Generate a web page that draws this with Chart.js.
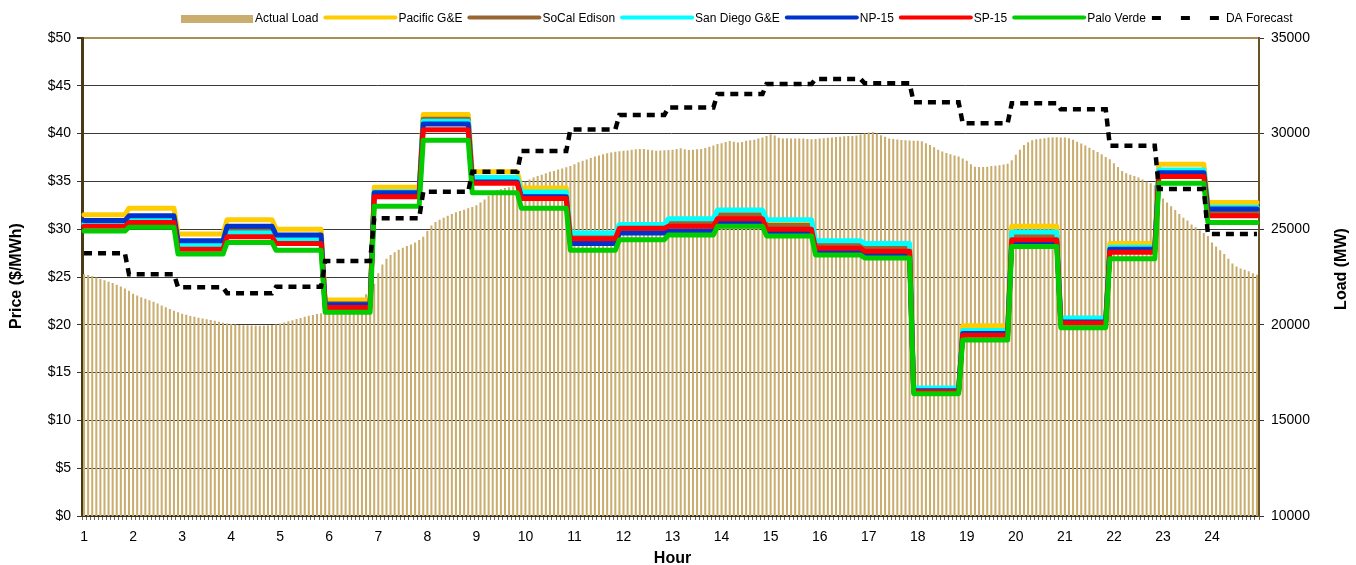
<!DOCTYPE html>
<html>
<head>
<meta charset="utf-8">
<title>Load and Prices</title>
<script src="https://cdn.jsdelivr.net/npm/chart.js@4.4.1/dist/chart.umd.min.js"></script>
<style>
  body { margin: 0; background: #fff; }
  canvas { display: block; }
</style>
</head>
<body>
<canvas id="myChart" width="1356" height="565"></canvas>
<script>
// hour tick labels
const hourLabels = ["1", "2", "3", "4", "5", "6", "7", "8", "9", "10", "11", "12",
  "13", "14", "15", "16", "17", "18", "19", "20", "21", "22", "23", "24"];

// actual load, MW, every 5 minutes (one row per hour)
const actualLoad = [
  22650, 22600, 22550, 22480, 22400, 22330, 22250, 22180, 22100, 22000, 21900, 21780,
  21620, 21530, 21440, 21360, 21290, 21200, 21110, 21010, 20920, 20830, 20740, 20650,
  20580, 20520, 20460, 20420, 20370, 20330, 20290, 20250, 20210, 20160, 20110, 20070,
  20040, 20010, 19990, 19980, 19970, 19960, 19960, 19950, 19960, 19970, 19990, 20020,
  20070, 20120, 20180, 20240, 20300, 20360, 20420, 20470, 20510, 20560, 20610, 20660,
  20700, 20740, 20780, 20840, 20900, 20980, 21100, 21250, 21420, 21600, 21850, 22150,
  22700, 23150, 23450, 23650, 23800, 23920, 24030, 24120, 24200, 24300, 24440, 24600,
  24900, 25200, 25380, 25500, 25600, 25700, 25800, 25880, 25950, 26020, 26090, 26160,
  26250, 26400, 26550, 26750, 26950, 27050, 27100, 27150, 27200, 27250, 27300, 27350,
  27480, 27600, 27700, 27780, 27850, 27920, 28000, 28050, 28120, 28180, 28240, 28300,
  28400, 28500, 28580, 28650, 28730, 28800, 28860, 28920, 28970, 29010, 29050, 29080,
  29100, 29120, 29150, 29180, 29200, 29190, 29160, 29130, 29100, 29110, 29130, 29140,
  29150, 29200, 29230, 29180, 29140, 29150, 29180, 29200, 29250, 29310, 29380, 29450,
  29500, 29560, 29610, 29580, 29540, 29560, 29620, 29650, 29680, 29750, 29800, 29880,
  29960, 29900, 29780, 29750, 29760, 29750, 29740, 29750, 29740, 29720, 29700, 29720,
  29740, 29760, 29780, 29800, 29820, 29840, 29860, 29870, 29880, 29900, 29950, 30010,
  30060, 30080, 30000, 29920, 29840, 29750, 29720, 29690, 29670, 29650, 29640, 29630,
  29630, 29600, 29500, 29400, 29280, 29150, 29060, 28980, 28920, 28860, 28800, 28700,
  28580, 28400, 28270, 28250, 28250, 28270, 28300, 28320, 28350, 28380, 28420, 28600,
  28900, 29150, 29400, 29550, 29650, 29700, 29730, 29760, 29790, 29810, 29810, 29800,
  29800, 29760, 29680, 29580, 29480, 29380, 29260, 29140, 29040, 28920, 28780, 28660,
  28450, 28250, 28050, 27920, 27850, 27780, 27700, 27600, 27500, 27400, 27300, 27150,
  26600, 26400, 26200, 26000, 25800, 25600, 25450, 25250, 25100, 24950, 24800, 24650,
  24300, 24100, 23900, 23700, 23450, 23200, 23050, 22950, 22880, 22800, 22700, 22620
];

// hourly prices, $/MWh
const pacificGE = [31.5, 32.2, 29.5, 31.0, 30.0, 22.6, 34.4, 42.0, 36.0, 34.3, 29.4, 30.3,
  30.9, 31.8, 30.8, 28.6, 28.3, 13.3, 19.9, 30.3, 20.6, 28.5, 36.8, 32.8];
const socalEdison = [30.5, 30.9, 28.5, 29.9, 29.1, 22.2, 33.7, 41.5, 35.0, 33.6, 29.2, 30.1,
  30.7, 31.5, 30.4, 28.4, 28.0, 13.2, 19.2, 29.4, 20.4, 27.9, 36.0, 31.8];
const sanDiegoGE = [30.6, 31.1, 28.3, 29.6, 28.9, 22.0, 33.9, 41.3, 35.4, 33.9, 29.6, 30.5,
  31.1, 32.0, 31.0, 28.8, 28.5, 13.4, 19.4, 29.7, 20.7, 28.1, 36.2, 32.3];
const np15 = [30.9, 31.4, 28.8, 30.3, 29.4, 22.1, 33.8, 41.0, 34.95, 33.4, 28.5, 29.6,
  29.8, 30.7, 29.7, 27.7, 27.4, 13.1, 19.1, 28.7, 20.3, 27.9, 35.9, 32.1];
const sp15 = [30.3, 30.7, 27.9, 29.2, 28.5, 21.8, 33.4, 40.4, 34.8, 33.2, 29.0, 30.1,
  30.3, 31.1, 30.0, 28.0, 27.7, 13.0, 18.9, 28.9, 20.2, 27.6, 35.5, 31.4];
const paloVerde = [29.8, 30.2, 27.4, 28.6, 27.8, 21.3, 32.4, 39.3, 33.8, 32.2, 27.8, 28.9,
  29.4, 30.3, 29.3, 27.3, 27.0, 12.8, 18.4, 28.2, 19.7, 26.9, 34.8, 30.7];

// day-ahead load forecast, MW
const daForecast = [23740, 22640, 21960, 21650, 21990, 23340, 25570, 26960, 28010, 29090, 30220, 30970,
  31370, 32070, 32590, 32860, 32630, 31640, 30540, 31590, 31270, 29370, 27100, 24750];

const FONT = '"Liberation Sans", Arial, sans-serif';
const loadColor = "#c9ae70";
const tanBorder = "#a88d55";

// 12 five-minute slots per hour, label only on the first slot
const categories = actualLoad.map((_, i) => (i % 12 === 0 ? hourLabels[i / 12] : ""));

// hourly value -> five minute steps (hour changes one slot before the tick)
const toSteps = (hourly) =>
  categories.map((_, i) => hourly[Math.min(23, Math.floor((i + 1) / 12))]);

const priceLine = (label, values, color, order) => ({
  type: "line",
  label: label,
  data: toSteps(values),
  yAxisID: "y",
  borderColor: color,
  backgroundColor: color,
  borderWidth: 5,
  pointRadius: 0,
  tension: 0,
  fill: false,
  borderCapStyle: "round",
  borderJoinStyle: "round",
  order: order,
});

const legendItems = [
  { text: "Actual Load", kind: "box", color: loadColor },
  { text: "Pacific G&E", kind: "line", color: "#ffcc00" },
  { text: "SoCal Edison", kind: "line", color: "#996633" },
  { text: "San Diego G&E", kind: "line", color: "#00ffff" },
  { text: "NP-15", kind: "line", color: "#0033cc" },
  { text: "SP-15", kind: "line", color: "#ff0000" },
  { text: "Palo Verde", kind: "line", color: "#00cc00" },
  { text: "DA Forecast", kind: "dash", color: "#000000" },
];

// legend + axis titles drawn by hand
const decorations = {
  id: "decorations",
  afterDraw(chart) {
    const ctx = chart.ctx;
    const area = chart.chartArea;
    ctx.save();

    // legend
    ctx.font = "12px " + FONT;
    ctx.textBaseline = "middle";
    ctx.textAlign = "left";
    let x = 181;
    legendItems.forEach((item) => {
      if (item.kind === "box") {
        ctx.fillStyle = item.color;
        ctx.fillRect(x, 15, 72, 8);
      } else {
        ctx.beginPath();
        ctx.strokeStyle = item.color;
        ctx.lineWidth = 4;
        if (item.kind === "dash") {
          ctx.setLineDash([9, 20]);
          ctx.lineCap = "butt";
          ctx.moveTo(x, 18);
          ctx.lineTo(x + 70, 18);
        } else {
          ctx.setLineDash([]);
          ctx.lineCap = "round";
          ctx.moveTo(x + 1, 17.5);
          ctx.lineTo(x + 71, 17.5);
        }
        ctx.stroke();
        ctx.setLineDash([]);
      }
      ctx.fillStyle = "#000";
      ctx.fillText(item.text, x + 74, 19);
      x = x + 74 + ctx.measureText(item.text).width + 6;
    });

    // axis titles
    ctx.font = "bold 16px " + FONT;
    ctx.fillStyle = "#000";
    ctx.textAlign = "center";
    ctx.textBaseline = "middle";

    ctx.save();
    ctx.translate(17, 276);
    ctx.rotate(-Math.PI / 2);
    ctx.fillText("Price ($/MWh)", 0, 0);
    ctx.restore();

    ctx.save();
    ctx.translate(1342, 269);
    ctx.rotate(-Math.PI / 2);
    ctx.fillText("Load (MW)", 0, 0);
    ctx.restore();

    ctx.fillText("Hour", (area.left + area.right) / 2 + 2, 559);
    ctx.restore();
  },
};

const chartCanvas = document.querySelector("#myChart");

new Chart(chartCanvas, {
  data: {
    labels: categories,
    datasets: [
      {
        type: "bar",
        label: "Actual Load",
        data: actualLoad,
        yAxisID: "y1",
        backgroundColor: loadColor,
        barPercentage: 0.5,
        categoryPercentage: 1,
        order: 10,
      },
      priceLine("Pacific G&E", pacificGE, "#ffcc00", 7),
      priceLine("SoCal Edison", socalEdison, "#996633", 6),
      priceLine("San Diego G&E", sanDiegoGE, "#00ffff", 5),
      priceLine("NP-15", np15, "#0033cc", 4),
      priceLine("SP-15", sp15, "#ff0000", 3),
      priceLine("Palo Verde", paloVerde, "#00cc00", 2),
      {
        type: "line",
        label: "DA Forecast",
        data: toSteps(daForecast),
        yAxisID: "y1",
        borderColor: "#000000",
        backgroundColor: "#000000",
        borderWidth: 4.5,
        borderDash: [8, 6],
        borderCapStyle: "butt",
        pointRadius: 0,
        tension: 0,
        fill: false,
        order: 1,
      },
    ],
  },
  options: {
    responsive: false,
    animation: false,
    devicePixelRatio: 1,
    layout: { padding: { top: 38, left: 0, right: 0, bottom: 0 } },
    plugins: {
      legend: { display: false },
      tooltip: { enabled: false },
    },
    scales: {
      x: {
        type: "category",
        offset: true,
        grid: {
          offset: true,
          drawOnChartArea: false,
          tickLength: 4,
          color: "#666",
        },
        border: { color: "#3b2f14", width: 2 },
        ticks: {
          autoSkip: false,
          maxRotation: 0,
          minRotation: 0,
          padding: 9,
          color: "#000",
          font: { size: 14, family: FONT },
          callback: function (value) {
            return this.getLabelForValue(value);
          },
        },
        afterFit: (scale) => {
          scale.height = 49;
        },
      },
      y: {
        position: "left",
        min: 0,
        max: 50,
        ticks: {
          stepSize: 5,
          padding: 6,
          color: "#000",
          font: { size: 14, family: FONT },
          callback: (value) => "$" + value,
        },
        grid: {
          color: (ctx) => (ctx.tick && ctx.tick.value === 50 ? tanBorder : "#3a3a3a"),
          lineWidth: (ctx) => (ctx.tick && ctx.tick.value === 50 ? 2 : 1),
          tickColor: "#333",
          tickLength: 5,
        },
        border: { color: "#4a3915", width: 3 },
        afterFit: (scale) => {
          scale.width = 82;
        },
      },
      y1: {
        position: "right",
        min: 10000,
        max: 35000,
        ticks: {
          stepSize: 5000,
          padding: 7,
          color: "#000",
          font: { size: 14, family: FONT },
          callback: (value) => String(value),
        },
        grid: {
          drawOnChartArea: false,
          tickColor: "#333",
          tickLength: 5,
        },
        border: { color: "#6b5224", width: 2 },
        afterFit: (scale) => {
          scale.width = 97;
        },
      },
    },
  },
  plugins: [decorations],
});
</script>
</body>
</html>
